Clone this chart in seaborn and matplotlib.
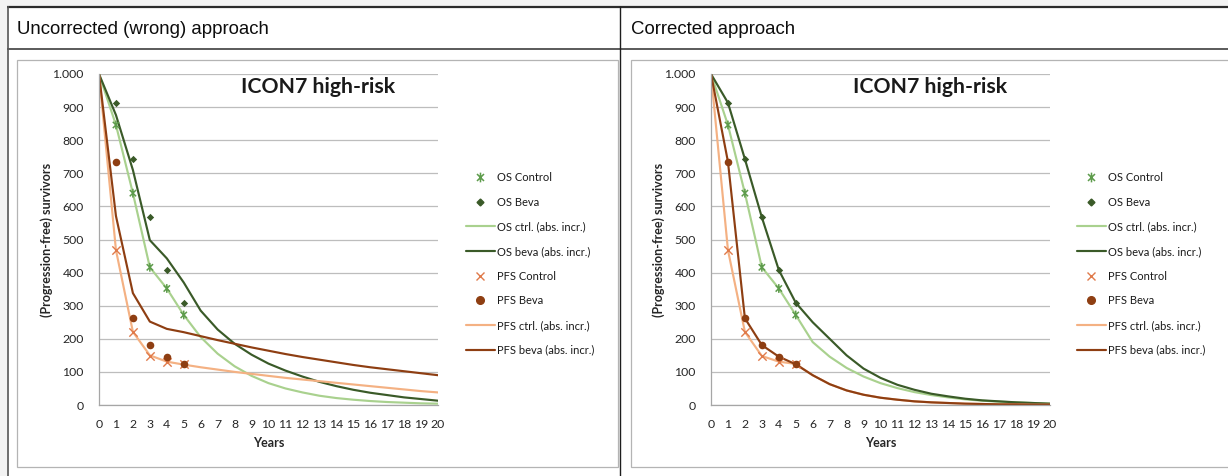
import matplotlib
matplotlib.use("Agg")
import matplotlib.pyplot as plt
from matplotlib.lines import Line2D
from matplotlib.patches import Rectangle
from matplotlib.path import Path
from matplotlib.ticker import FuncFormatter
import seaborn as sns

# ---- data -------------------------------------------------------------
years = list(range(0, 21))
obs_years = [1, 2, 3, 4, 5]

os_control = [846, 640, 416, 352, 272]
os_beva = [913, 743, 567, 408, 309]
pfs_control = [468, 221, 148, 131, 123]
pfs_beva = [735, 262, 181, 146, 123]

# uncorrected extrapolation
os_ctrl_unc = [1000, 846, 640, 416, 352, 272, 205, 155, 117, 88, 66, 50, 38, 28, 21, 16, 12, 9, 7, 5, 4]
os_beva_unc = [1000, 876, 710, 498, 443, 370, 285, 228, 185, 152, 125, 104, 86, 70, 57, 46, 37, 30, 23, 18, 13]
pfs_ctrl_unc = [1000, 468, 221, 150, 131, 122, 114, 107, 100, 94, 88, 82, 77, 72, 67, 62, 57, 52, 47, 42, 38]
pfs_beva_unc = [1000, 571, 338, 252, 230, 220, 208, 196, 185, 174, 164, 154, 145, 137, 129, 121, 114, 108, 102, 96, 90]

# corrected extrapolation
os_ctrl_cor = [1000, 846, 640, 416, 352, 272, 190, 146, 112, 86, 66, 51, 39, 30, 23, 17, 13, 10, 8, 6, 4]
os_beva_cor = [1000, 913, 743, 567, 408, 309, 250, 200, 150, 110, 82, 61, 46, 34, 26, 19, 14, 11, 8, 6, 4]
pfs_ctrl_cor = [1000, 468, 221, 148, 131, 124, 90, 63, 44, 31, 22, 16, 11, 8, 6, 4, 3, 2, 2, 1, 1]
pfs_beva_cor = [1000, 735, 262, 181, 146, 123, 90, 63, 44, 31, 22, 16, 11, 8, 6, 4, 3, 2, 2, 1, 1]

headers = ["Uncorrected (wrong) approach", "Corrected approach"]
chart_title = "ICON7 high-risk"
legend_labels = ["OS Control", "OS Beva", "OS ctrl. (abs. incr.)", "OS beva (abs. incr.)",
                 "PFS Control", "PFS Beva", "PFS ctrl. (abs. incr.)", "PFS beva (abs. incr.)"]

# ---- style ------------------------------------------------------------
sns.set_style("white")
plt.rcParams["font.family"] = ["Lato", "DejaVu Sans"]

C_OS_PT = "#5e9c4c"
C_OS_BEVA = "#3a5a28"
C_OS_CTRL_LN = "#a9d18e"
C_PFS_PT = "#e07a4a"
C_PFS_BEVA = "#8e3e12"
C_PFS_CTRL_LN = "#f4b183"
TXT = "#262626"
LW = 1.55

star = Path([(0, -1), (0, 1), (-0.72, -0.72), (0.72, 0.72), (-0.72, 0.72), (0.72, -0.72)],
            [Path.MOVETO, Path.LINETO, Path.MOVETO, Path.LINETO, Path.MOVETO, Path.LINETO])

W, H = 1228, 476
fig = plt.figure(figsize=(W / 100, H / 100), dpi=100)
fig.patch.set_facecolor("#f3f3f3")


def fx(x):
    return x / W


def fy(y):
    return 1 - y / H


def hline(x0, x1, y, color, lw):
    fig.add_artist(Line2D([fx(x0), fx(x1)], [fy(y), fy(y)], transform=fig.transFigure,
                          color=color, lw=lw, solid_capstyle="butt", zorder=-4))


def vline(x, y0, y1, color, lw):
    fig.add_artist(Line2D([fx(x), fx(x)], [fy(y0), fy(y1)], transform=fig.transFigure,
                          color=color, lw=lw, solid_capstyle="butt", zorder=-4))


def box(x0, y0, x1, y1, face, edge, lw, z):
    fig.add_artist(Rectangle((fx(x0), fy(y1)), fx(x1) - fx(x0), fy(y0) - fy(y1),
                             transform=fig.transFigure, facecolor=face, edgecolor=edge,
                             lw=lw, zorder=z))


# table frame
box(7, 6, W + 5, H + 5, "white", "none", 0, -6)
hline(7, W, 6.5, "#2b2b2b", 1.6)
vline(7.5, 6, H, "#555555", 1.2)
hline(7, W, 48.5, "#5a5a5a", 1.4)
vline(620.5, 6, H, "#1e1e1e", 1.0)
box(17, 60, 618, 467, "white", "#b4b4b4", 0.9, -5)
box(631, 60, W + 10, 467, "white", "#b4b4b4", 0.9, -5)

fig.text(fx(17), fy(29), headers[0], family=["Liberation Sans", "DejaVu Sans"],
         fontsize=13.4, color="#0d0d0d", va="center", ha="left")
fig.text(fx(631), fy(29), headers[1], family=["Liberation Sans", "DejaVu Sans"],
         fontsize=13.4, color="#0d0d0d", va="center", ha="left")

panels = [
    (99, (os_ctrl_unc, os_beva_unc, pfs_ctrl_unc, pfs_beva_unc), 466),
    (711, (os_ctrl_cor, os_beva_cor, pfs_ctrl_cor, pfs_beva_cor), 1077),
]

fmt = FuncFormatter(lambda v, p: f"{int(v):,}".replace(",", "."))

for left_px, (l_oc, l_ob, l_pc, l_pb), leg_x in panels:
    ax = fig.add_axes([fx(left_px), fy(405), 339 / W, 331 / H])
    ax.set_facecolor("none")

    sns.lineplot(x=years, y=l_oc, ax=ax, color=C_OS_CTRL_LN, lw=LW)
    sns.lineplot(x=years, y=l_ob, ax=ax, color=C_OS_BEVA, lw=LW)
    sns.lineplot(x=years, y=l_pc, ax=ax, color=C_PFS_CTRL_LN, lw=LW)
    sns.lineplot(x=years, y=l_pb, ax=ax, color=C_PFS_BEVA, lw=LW)

    sns.scatterplot(x=obs_years, y=os_control, ax=ax, marker=star, s=40,
                    facecolor="none", edgecolor=C_OS_PT, linewidth=1.1, zorder=5)
    sns.scatterplot(x=obs_years, y=os_beva, ax=ax, marker="D", s=14,
                    color=C_OS_BEVA, edgecolor=C_OS_BEVA, linewidth=0, zorder=5)
    sns.scatterplot(x=obs_years, y=pfs_control, ax=ax, marker="x", s=36,
                    color=C_PFS_PT, linewidth=1.0, zorder=5)
    sns.scatterplot(x=obs_years, y=pfs_beva, ax=ax, marker="o", s=30,
                    color=C_PFS_BEVA, edgecolor=C_PFS_BEVA, linewidth=0, zorder=5)

    ax.set_xlim(0, 20)
    ax.set_ylim(0, 1000)
    ax.set_xticks(years)
    ax.set_yticks(range(0, 1001, 100))
    ax.yaxis.set_major_formatter(fmt)
    ax.yaxis.grid(True, color="#bdbdbd", lw=0.9)
    ax.xaxis.grid(False)
    ax.set_axisbelow(True)
    for s in ("top", "right"):
        ax.spines[s].set_visible(False)
    for s in ("left", "bottom"):
        ax.spines[s].set_color("#a6a6a6")
        ax.spines[s].set_linewidth(0.9)
    ax.tick_params(axis="x", length=3, width=0.8, color="#a6a6a6", pad=7,
                   labelsize=8.8, labelcolor=TXT)
    ax.tick_params(axis="y", length=3, width=0.8, color="#a6a6a6", pad=8,
                   labelsize=8.8, labelcolor=TXT)

    ax.set_xlabel("Years", fontsize=9, fontweight="bold", color=TXT)
    ax.set_ylabel("(Progression-free) survivors", fontsize=9, fontweight="bold", color=TXT)
    ax.xaxis.set_label_coords(0.5, (405 - 437) / 331)
    ax.yaxis.set_label_coords((53 - 99) / 339, 0.5)

    ax.text(0.645, 0.96, chart_title, transform=ax.transAxes, ha="center", va="center",
            fontsize=15.3, fontweight="bold", color="#1a1a1a")

    handles = [
        Line2D([], [], ls="none", marker=star, markersize=7, markeredgecolor=C_OS_PT,
               markerfacecolor="none", markeredgewidth=1.1),
        Line2D([], [], ls="none", marker="D", markersize=3.5, color=C_OS_BEVA),
        Line2D([], [], color=C_OS_CTRL_LN, lw=LW),
        Line2D([], [], color=C_OS_BEVA, lw=LW),
        Line2D([], [], ls="none", marker="x", markersize=6, color=C_PFS_PT, markeredgewidth=1.0),
        Line2D([], [], ls="none", marker="o", markersize=5.5, color=C_PFS_BEVA),
        Line2D([], [], color=C_PFS_CTRL_LN, lw=LW),
        Line2D([], [], color=C_PFS_BEVA, lw=LW),
    ]
    leg = ax.legend(handles, legend_labels, loc="upper left",
                    bbox_to_anchor=(fx(leg_x), fy(172)), bbox_transform=fig.transFigure,
                    frameon=False, fontsize=8, handlelength=2.6, handletextpad=0.15,
                    labelspacing=1.23, borderpad=0, borderaxespad=0)
    for t in leg.get_texts():
        t.set_color("#1a1a1a")

fig.savefig("out.png", dpi=100, facecolor=fig.get_facecolor())
